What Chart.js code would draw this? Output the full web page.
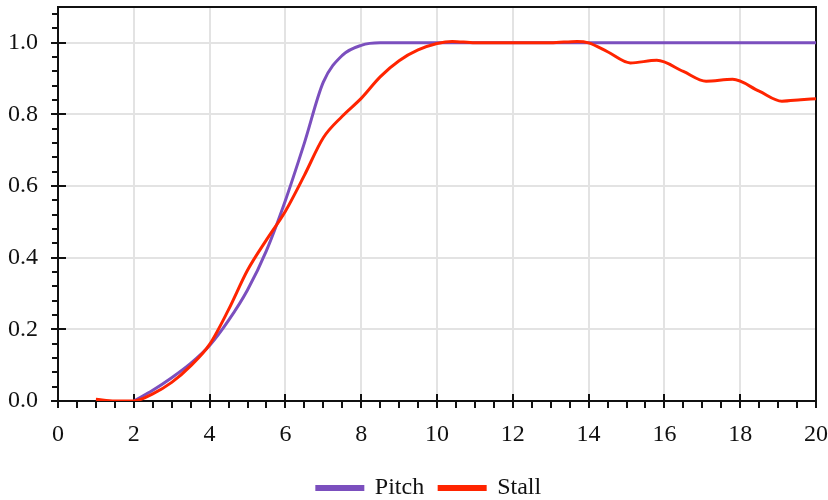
<!DOCTYPE html>
<html>
<head>
<meta charset="utf-8">
<script src="https://cdn.jsdelivr.net/npm/chart.js@4"></script>
<style>
  html, body { margin: 0; padding: 0; background: #ffffff; }
  #wrap { width: 828px; height: 500px; }
</style>
</head>
<body>
<div id="wrap"><canvas id="c" width="828" height="500"></canvas></div>
<script>
const seriesNames = ["Pitch", "Stall"];
const pitchX = [2, 2.5, 3, 3.5, 4, 4.5, 5, 5.5, 6, 6.5, 7, 7.5, 8, 8.5, 9, 10, 12, 14, 16, 18, 20];
const pitchY = [0, 0.03, 0.065, 0.105, 0.155, 0.225, 0.31, 0.42, 0.56, 0.72, 0.89, 0.965, 0.993, 1.0, 1.0, 1.0, 1.0, 1.0, 1.0, 1.0, 1.0];
const stallX = [1, 1.5, 2, 2.5, 3, 3.5, 4, 4.5, 5, 5.5, 6, 6.5, 7, 7.5, 8, 8.5, 9, 9.5, 10, 10.4, 11, 12, 13, 13.7, 14, 14.5, 15.1, 15.8, 16.5, 17.1, 17.8, 18.5, 19.1, 19.6, 20];
const stallY = [0.005, 0.0, 0.0, 0.02, 0.052, 0.098, 0.158, 0.255, 0.365, 0.45, 0.53, 0.63, 0.735, 0.795, 0.845, 0.905, 0.95, 0.98, 0.998, 1.004, 1.0, 1.0, 1.0, 1.004, 1.0, 0.975, 0.944, 0.951, 0.92, 0.893, 0.898, 0.865, 0.837, 0.841, 0.844];
const xTicks = [0, 2, 4, 6, 8, 10, 12, 14, 16, 18, 20];
const yTicks = [0.0, 0.2, 0.4, 0.6, 0.8, 1.0];

const PURPLE = "#7B4FBE";
const RED = "#FF2400";
const FONT = "'Liberation Serif', 'Times New Roman', serif";

const toPts = (xs, ys) => xs.map((x, i) => ({ x: x, y: ys[i] }));

const axisPlugin = {
  id: "axisBox",
  afterLayout(chart) {
    const lg = chart.legend;
    if (lg) { lg.left += 21; lg.right += 21; }
  },
  beforeDatasetsDraw(chart) {
    const ctx = chart.ctx;
    const a = chart.chartArea;
    const xs = chart.scales.x, ys = chart.scales.y;
    ctx.save();
    ctx.strokeStyle = "#111";
    ctx.lineWidth = 2;
    ctx.strokeRect(a.left, a.top, a.right - a.left, a.bottom - a.top);
    ctx.beginPath();
    for (let k = 0; k <= 40; k++) {
      const v = k * 0.5;
      const px = Math.round(xs.getPixelForValue(v));
      if (k % 4 === 0) { ctx.moveTo(px, a.bottom - 7); ctx.lineTo(px, a.bottom + 7); }
      else { ctx.moveTo(px, a.bottom); ctx.lineTo(px, a.bottom + 7); }
    }
    for (let k = 0; k <= 27; k++) {
      const v = k * 0.04;
      if (v > 1.1) break;
      const py = Math.round(ys.getPixelForValue(v));
      if (k % 5 === 0) { ctx.moveTo(a.left - 7, py); ctx.lineTo(a.left + 8, py); }
      else { ctx.moveTo(a.left - 6, py); ctx.lineTo(a.left, py); }
    }
    ctx.stroke();
    ctx.restore();
  }
};

new Chart(document.getElementById("c"), {
  type: "line",
  data: {
    datasets: [
      { label: seriesNames[0], data: toPts(pitchX, pitchY), borderColor: PURPLE, backgroundColor: PURPLE,
        borderWidth: 3, pointRadius: 0, cubicInterpolationMode: "monotone", order: 1 },
      { label: seriesNames[1], data: toPts(stallX, stallY), borderColor: RED, backgroundColor: RED,
        borderWidth: 3, pointRadius: 0, cubicInterpolationMode: "monotone", order: 0 }
    ]
  },
  options: {
    responsive: false,
    animation: false,
    devicePixelRatio: 1,
    layout: { padding: { left: 0, right: 12, top: 7, bottom: -10 } },
    plugins: {
      tooltip: { enabled: false },
      legend: {
        position: "bottom",
        labels: {
          boxWidth: 46, boxHeight: 3, padding: 15, color: "#111",
          font: { family: FONT, size: 24 },
          sort: (a, b) => a.datasetIndex - b.datasetIndex
        }
      }
    },
    scales: {
      x: {
        type: "linear", min: 0, max: 20,
        afterFit: (s) => { s.height = 60; s.paddingLeft = 0; s.paddingRight = 0; },
        afterBuildTicks: (s) => { s.ticks = xTicks.map(v => ({ value: v })); },
        grid: { color: "#e3e3e3", lineWidth: 2, drawTicks: false },
        border: { display: false },
        ticks: { padding: 19, color: "#111", font: { family: FONT, size: 24 }, maxRotation: 0 }
      },
      y: {
        type: "linear", min: 0, max: 1.1,
        afterFit: (s) => { s.width = 58; s.paddingTop = 0; s.paddingBottom = 0; },
        afterBuildTicks: (s) => { s.ticks = yTicks.map(v => ({ value: v })); },
        grid: { color: "#e3e3e3", lineWidth: 2, drawTicks: false },
        border: { display: false },
        ticks: { padding: 20, color: "#111", font: { family: FONT, size: 24 },
          callback: (v) => Number(v).toFixed(1) }
      }
    }
  },
  plugins: [axisPlugin]
});
</script>
</body>
</html>
